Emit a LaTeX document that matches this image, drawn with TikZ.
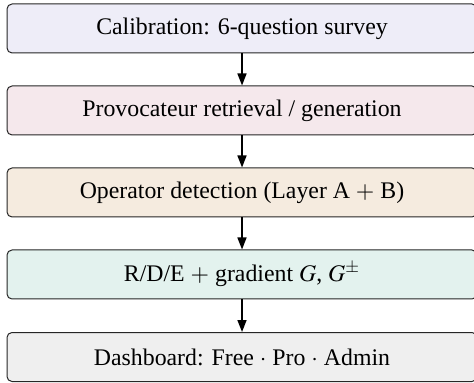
\documentclass[tikz,border=0pt]{standalone}
\usepackage{mathptmx}
\usepackage{fontspec}
\setmainfont{Liberation Serif}
\usetikzlibrary{arrows.meta}
\definecolor{cA}{HTML}{EEEDF8}
\definecolor{cB}{HTML}{F5E8EC}
\definecolor{cC}{HTML}{F5EBDF}
\definecolor{cD}{HTML}{E3F2EE}
\definecolor{cE}{HTML}{EFEFEF}
\begin{document}
\begin{tikzpicture}[x=0.5pt,y=-0.5pt,
  stagebox/.style={draw=black!85,line width=0.5pt,rounded corners=2.5pt,minimum width=235pt,minimum height=24.5pt,inner sep=0pt,font=\fontsize{11.9}{14}\selectfont},
  flow/.style={-{Stealth[length=6pt,width=4.5pt,inset=0pt]},line width=0.8pt}]
\useasboundingbox (0,0) rectangle (474,383);
\begin{scope}
\clip (0,0) rectangle (474,383);
\node[stagebox,fill=cA] (a) at (242,28.5) {Calibration: 6-question survey};
\node[stagebox,fill=cB] (b) at (242,110.5) {Provocateur retrieval / generation};
\node[stagebox,fill=cC] (c) at (242,192.5) {Operator detection (Layer A $+$ B)};
\node[stagebox,fill=cD] (d) at (242,274.5) {R/D/E $+$ gradient $G$, $G^{\pm}$};
\node[stagebox,fill=cE] (e) at (242,357) {Dashboard: Free $\cdot$ Pro $\cdot$ Admin};
\end{scope}
\draw[flow] (a) -- (b);
\draw[flow] (b) -- (c);
\draw[flow] (c) -- (d);
\draw[flow] (d) -- (e);
\end{tikzpicture}
\end{document}
